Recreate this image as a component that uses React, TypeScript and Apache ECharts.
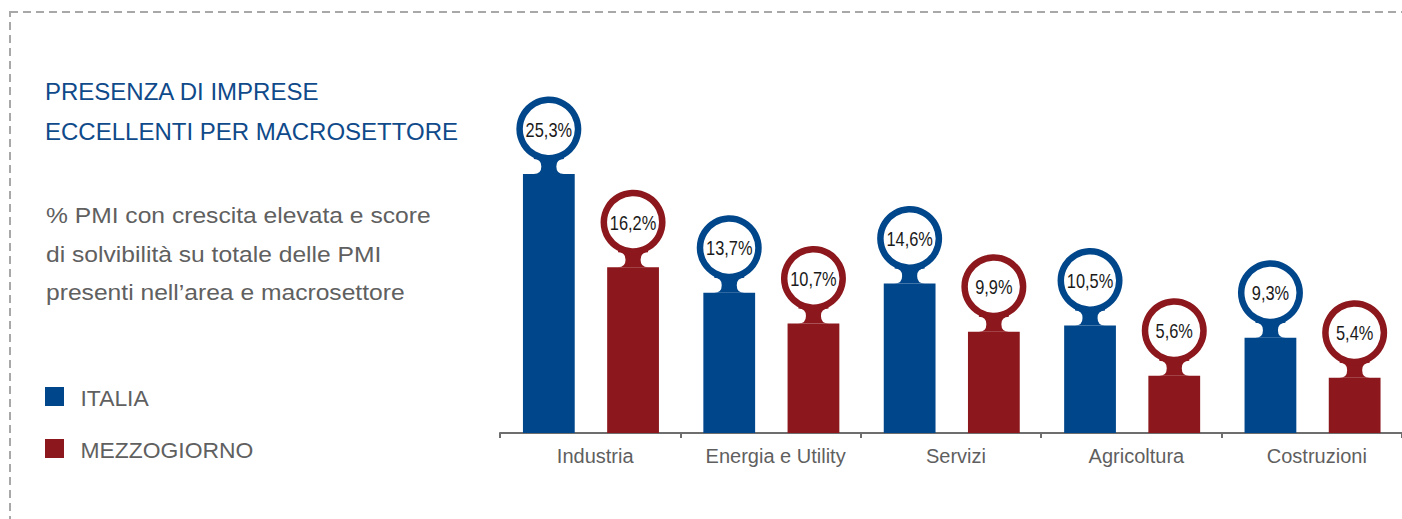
import React, { useEffect, useRef } from "react";
import * as echarts from "echarts";

const categories = ["Industria", "Energia e Utility", "Servizi", "Agricoltura", "Costruzioni"];
const italia = [25.3, 13.7, 14.6, 10.5, 9.3];
const mezzogiorno = [16.2, 10.7, 9.9, 5.6, 5.4];
const seriesNames = ["ITALIA", "MEZZOGIORNO"];
const titleLines = ["PRESENZA DI IMPRESE", "ECCELLENTI PER MACROSETTORE"];
const subtitleLines = [
  "% PMI con crescita elevata e score",
  "di solvibilità su totale delle PMI",
  "presenti nell\u2019area e macrosettore",
];

const BLUE = "#00468b";
const RED = "#8c171c";
const SANS = '"Liberation Sans", Arial, Helvetica, sans-serif';

const fmt = (v: number) => v.toFixed(1).replace(".", ",") + "%";

function makeRender(color: string, offsetFrac: number) {
  return (params: any, api: any) => {
    const idx = api.value(0);
    const val = api.value(1);
    const base = api.coord([idx, 0]);
    const top = api.coord([idx, val]);
    const band = api.size([1, 0])[0];
    const w = band * 0.287;
    const cx = base[0] + offsetFrac * band;
    const yt = top[1];
    const cy = yt - 45;
    const hw = 7.5;
    const r = 7.5;
    const x0 = cx - hw - r;
    const x1 = cx + hw + r;
    const d =
      `M ${x0} ${yt} Q ${cx - hw} ${yt} ${cx - hw} ${yt - r} ` +
      `Q ${cx - hw} ${yt - 2 * r} ${x0} ${yt - 2 * r} ` +
      `L ${x0} ${cy + 15} L ${x1} ${cy + 15} L ${x1} ${yt - 2 * r} ` +
      `Q ${cx + hw} ${yt - 2 * r} ${cx + hw} ${yt - r} ` +
      `Q ${cx + hw} ${yt} ${x1} ${yt} Z`;
    return {
      type: "group",
      children: [
        {
          type: "rect",
          shape: { x: cx - w / 2, y: yt, width: w, height: base[1] - yt },
          style: { fill: color },
        },
        {
          type: "path",
          shape: { pathData: d },
          style: { fill: color },
        },
        {
          type: "circle",
          shape: { cx, cy, r: 29.25 },
          style: { fill: "#ffffff", stroke: color, lineWidth: 6.5 },
        },
        {
          type: "text",
          x: cx,
          y: cy + 0.5,
          scaleX: 0.82,
          style: {
            text: fmt(val),
            fill: "#1a1a1a",
            font: `20px ${SANS}`,
            align: "center",
            verticalAlign: "middle",
          },
        },
      ],
    };
  };
}

export default function App() {
  const ref = useRef<HTMLDivElement>(null);
  useEffect(() => {
    if (!ref.current) return;
    const chart = echarts.init(ref.current, undefined, { renderer: "svg" });
    const graphics: any[] = [
      {
        type: "rect",
        silent: true,
        shape: { x: 10, y: 12, width: 2000, height: 2000 },
        style: { fill: "transparent", stroke: "#a8a8a8", lineWidth: 2, lineDash: [8, 5] },
      },
    ];
    titleLines.forEach((t, i) => {
      graphics.push({
        type: "text",
        x: 45,
        y: 91.5 + i * 40,
        style: { text: t, fill: "#0f4a8a", font: `24px ${SANS}`, align: "left", verticalAlign: "middle" },
      });
    });
    subtitleLines.forEach((t, i) => {
      graphics.push({
        type: "text",
        x: 46,
        y: 215.5 + i * 38.5,
        scaleX: 1.12,
        style: { text: t, fill: "#606060", font: `22px ${SANS}`, align: "left", verticalAlign: "middle" },
      });
    });
    const legendColors = [BLUE, RED];
    seriesNames.forEach((n, i) => {
      const yc = 396.5 + i * 52;
      graphics.push({
        type: "rect",
        shape: { x: 45, y: yc - 9.5, width: 19, height: 19 },
        style: { fill: legendColors[i] },
      });
      graphics.push({
        type: "text",
        x: 80.5,
        y: yc + 2,
        scaleX: 1.04,
        style: { text: n, fill: "#606060", font: `22px ${SANS}`, align: "left", verticalAlign: "middle" },
      });
    });

    chart.setOption({
      animation: false,
      grid: { left: 500, width: 905, top: 126, bottom: 86, containLabel: false },
      xAxis: {
        type: "category",
        data: categories,
        axisLine: { show: true, lineStyle: { color: "#6e6e6e", width: 2 } },
        axisTick: { show: true, interval: 0, length: 5, lineStyle: { color: "#6e6e6e", width: 2 } },
        axisLabel: {
          interval: 0,
          fontSize: 20,
          color: "#5f5f5f",
          margin: 13,
          fontFamily: SANS,
          padding: [0, 0, 0, 10],
        },
        splitLine: { show: false },
      },
      yAxis: {
        type: "value",
        min: 0,
        max: 30,
        show: false,
      },
      graphic: graphics,
      series: [
        {
          name: seriesNames[0],
          type: "custom",
          clip: false,
          itemStyle: { color: BLUE },
          renderItem: makeRender(BLUE, -41.5 / 181),
          data: italia.map((v, i) => [i, v]),
        },
        {
          name: seriesNames[1],
          type: "custom",
          clip: false,
          itemStyle: { color: RED },
          renderItem: makeRender(RED, 43 / 181),
          data: mezzogiorno.map((v, i) => [i, v]),
        },
      ],
    });
    return () => chart.dispose();
  }, []);
  return (
    <div
      ref={ref}
      style={{ position: "fixed", left: 0, top: 0, width: 1402, height: 519, background: "#ffffff" }}
    />
  );
}
